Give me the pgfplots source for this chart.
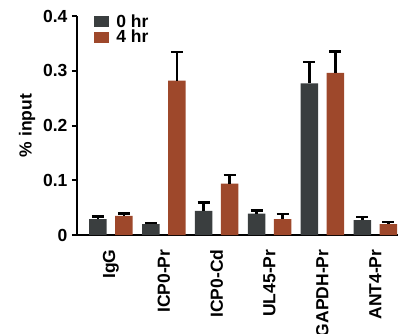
\documentclass[border=0pt]{standalone}
\usepackage{pgfplots}
\pgfplotsset{compat=1.18}
\usepackage{pgfplotstable}
\usepackage{fontspec}
\setmainfont{Liberation Sans}
\definecolor{cgray}{RGB}{58,62,63}
\definecolor{cbrown}{RGB}{158,72,43}
\pgfplotstableread{
x y e
0 0.029 0.005
1 0.020 0.002
2 0.044 0.015
3 0.039 0.006
4 0.277 0.039
5 0.027 0.006
}\zerohr
\pgfplotstableread{
x y e
0 0.035 0.004
1 0.282 0.052
2 0.094 0.016
3 0.029 0.009
4 0.296 0.039
5 0.020 0.004
}\fourhr
\newcommand{\lf}{\bfseries\fontsize{17.5}{18}\selectfont}
\begin{document}
\begin{tikzpicture}
\begin{axis}[
  at={(0,0)}, anchor=south west,
  scale only axis, width=321pt, height=219pt,
  xmin=-0.643, xmax=5.43, ymin=0, ymax=0.4,
  axis x line*=bottom, axis y line*=left,
  axis line style={line width=2pt, black},
  ybar,
  ytick={0,0.1,0.2,0.3,0.4},
  yticklabels={0,0.1,0.2,0.3,0.4},
  xtick={0,1,2,3,4,5},
  xticklabels={IgG,ICP0-Pr,ICP0-Cd,UL45-Pr,GAPDH-Pr,ANT4-Pr},
  x tick style={draw=none},
  major x tick style={draw=none},
  y tick style={line width=2pt, black},
  tick align=outside,
  major tick length=5pt,
  /pgf/number format/assume math mode=true,
  yticklabel style={font=\lf, xshift=-1pt},
  xticklabel style={rotate=90, anchor=east, font=\lf, yshift=0pt, xshift=-6pt},
  ylabel={\% input},
  ylabel style={font=\lf, yshift=1pt},
  legend style={at={(0.05,1.02)}, anchor=north west, draw=none, fill=none, font=\lf,
    row sep=-3pt, inner sep=1pt,
    /tikz/every odd column/.append style={column sep=5pt}},
  legend cell align=left,
]
\addplot[ybar, bar width=17.5pt, bar shift=-13pt, fill=cgray, draw=none,
  legend image code/.code={\fill[cgray] (0pt,-5.5pt) rectangle (15pt,5.5pt);},
  error bars/.cd, y dir=plus, y explicit,
  error bar style={line width=2.5pt, black},
  error mark options={rotate=90, mark size=6pt, line width=2.5pt, black}]
  table[x=x, y=y, y error=e] {\zerohr};
\addlegendentry{0 hr}
\addplot[ybar, bar width=17.5pt, bar shift=13pt, fill=cbrown, draw=none,
  legend image code/.code={\fill[cbrown] (0pt,-5.5pt) rectangle (15pt,5.5pt);},
  error bars/.cd, y dir=plus, y explicit,
  error bar style={line width=2.5pt, black},
  error mark options={rotate=90, mark size=6pt, line width=2.5pt, black}]
  table[x=x, y=y, y error=e] {\fourhr};
\addlegendentry{4 hr}
\end{axis}
\pgfresetboundingbox
\path (-77pt,-98pt) rectangle (321pt,235pt);
\end{tikzpicture}
\end{document}
